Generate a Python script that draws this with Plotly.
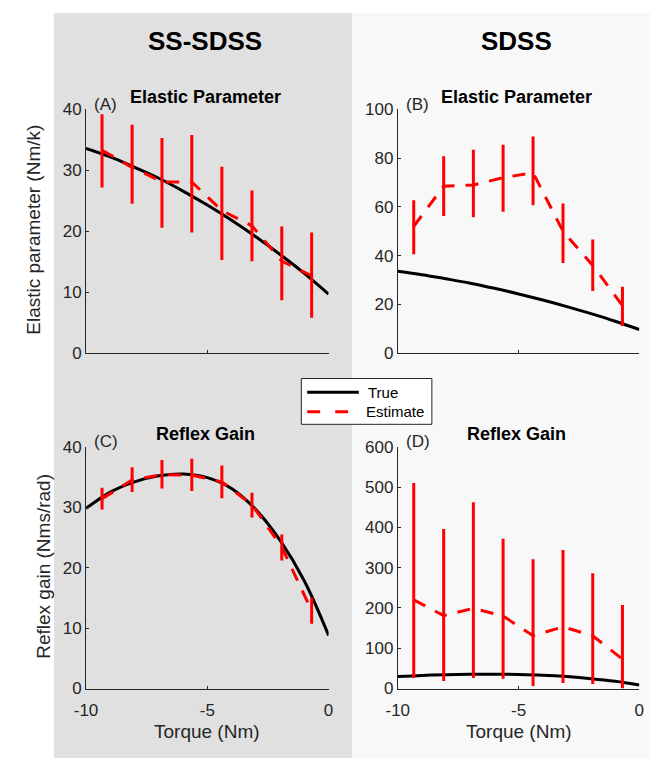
import plotly.graph_objects as go

# Torque levels at which the estimates were made (Nm)
torque_levels = [-9.34, -8.10, -6.87, -5.64, -4.40, -3.16, -1.93, -0.70]

# Sampled "true" curves over the full torque range
torque_grid = [-10, -9, -8, -7, -6, -5, -4, -3, -2, -1, 0]
elastic_true = [33.6, 32.2, 30.5, 28.7, 26.6, 24.3, 21.8, 19.1, 16.2, 13.1, 9.7]
reflex_true = [29.8, 32.5, 34.2, 35.2, 35.5, 34.9, 33.1, 29.6, 24.5, 17.8, 8.8]

# (A) SS-SDSS elastic parameter estimates with lower/upper bounds
a_est = [33.3, 30.5, 28.1, 28.1, 23.4, 20.9, 15.1, 12.7]
a_lo = [27.2, 24.5, 20.6, 19.8, 15.3, 15.1, 8.7, 5.8]
a_hi = [39.2, 37.5, 35.3, 35.8, 30.6, 26.7, 20.8, 19.8]

# (B) SDSS elastic parameter estimates
b_est = [52.0, 68.5, 69.0, 72.0, 74.0, 50.0, 36.0, 19.5]
b_lo = [40.6, 56.3, 55.8, 58.0, 60.7, 37.0, 25.5, 11.1]
b_hi = [62.7, 80.8, 83.5, 85.5, 88.9, 61.4, 46.6, 27.2]

# (C) SS-SDSS reflex gain estimates
c_est = [31.4, 34.5, 35.4, 35.3, 34.2, 30.4, 23.4, 12.9]
c_lo = [29.6, 32.5, 33.1, 32.7, 31.5, 28.3, 21.2, 10.7]
c_hi = [33.2, 36.6, 37.8, 38.0, 36.9, 32.4, 25.5, 15.0]

# (D) SDSS reflex gain estimates
d_est = [220.0, 181.0, 199.0, 180.0, 131.0, 153.0, 131.0, 73.0]
d_lo = [26.0, 19.0, 26.0, 24.0, 6.0, 14.0, 11.0, 0.0]
d_hi = [510.0, 396.0, 462.0, 372.0, 321.0, 344.0, 286.0, 207.0]

x_ticks = [-10, -5, 0]
x_tick_text = ["-10", "-5", "0"]

W, H = 658, 758
FONT = "Liberation Sans, Arial, Helvetica, sans-serif"
INK = "#262626"
DASH = "13px,11px"


def px_x(p):
    return p / W


def px_y(p):
    return 1 - p / H


panels = [
    # name, xdom(px), ydom(px), true, est, lo, hi, yrange, dtick, letter, title
    ("1", (76, 325), (103, 353), elastic_true, a_est, a_lo, a_hi, [0, 40], 10, "(A)", "Elastic Parameter"),
    ("2", (396, 644), (103, 353), elastic_true, b_est, b_lo, b_hi, [0, 100], 20, "(B)", "Elastic Parameter"),
    ("3", (76, 325), (449, 697), reflex_true, c_est, c_lo, c_hi, [0, 40], 10, "(C)", "Reflex Gain"),
    ("4", (396, 644), (449, 697), reflex_true, d_est, d_lo, d_hi, [0, 600], 100, "(D)", "Reflex Gain"),
]

fig = go.Figure()
layout = {}
annotations = []

for i, (n, xd, yd, true_v, est, lo, hi, yr, dt, letter, title) in enumerate(panels):
    xa = "x" if n == "1" else "x" + n
    ya = "y" if n == "1" else "y" + n
    fig.add_trace(go.Scatter(
        x=torque_grid, y=true_v, mode="lines", line=dict(color="black", width=3, shape="spline"),
        name="True", showlegend=False, xaxis=xa, yaxis=ya,
    ))
    fig.add_trace(go.Scatter(
        x=torque_levels, y=est, mode="lines",
        line=dict(color="#ff0000", width=3, dash=DASH),
        error_y=dict(type="data", symmetric=False,
                     array=[h - e for h, e in zip(hi, est)],
                     arrayminus=[e - l for e, l in zip(est, lo)],
                     color="#ff0000", thickness=3, width=0),
        name="Estimate", showlegend=False, xaxis=xa, yaxis=ya,
    ))
    bottom = n in ("3", "4")
    key = "" if n == "1" else n
    layout["xaxis" + key] = dict(
        domain=[px_x(xd[0]), px_x(xd[1])], anchor=ya, range=[-10, 0],
        tickvals=x_ticks, ticktext=x_tick_text, showticklabels=bottom,
        ticks="inside", ticklen=3, ticklabelstandoff=6,
        tickcolor=INK, showline=True, linecolor=INK, linewidth=1, showgrid=False,
        zeroline=False, tickfont=dict(size=17, color=INK, family=FONT),
    )
    layout["yaxis" + key] = dict(
        domain=[px_y(yd[1]), px_y(yd[0])], anchor=xa, range=yr, dtick=dt,
        ticks="inside", ticklen=3, tickcolor=INK, showline=True, linecolor=INK,
        linewidth=1, showgrid=False, zeroline=False,
        tickfont=dict(size=17, color=INK, family=FONT),
    )
    cx = (xd[0] + xd[1]) / 2 - 2
    annotations.append(dict(
        text="<b>" + title + "</b>", x=px_x(cx), y=px_y(yd[0] - 13), xref="paper", yref="paper",
        showarrow=False, xanchor="center", yanchor="middle",
        font=dict(size=18, color="black", family=FONT),
    ))
    annotations.append(dict(
        text=letter, x=px_x(xd[0] + 6), y=px_y(yd[0] - 5), xref="paper", yref="paper",
        showarrow=False, xanchor="left", yanchor="middle",
        font=dict(size=17, color=INK, family=FONT),
    ))
    if bottom:
        annotations.append(dict(
            text="Torque (Nm)", x=px_x(cx + 2), y=px_y(741), xref="paper", yref="paper",
            showarrow=False, xanchor="center", yanchor="middle",
            font=dict(size=19, color=INK, family=FONT),
        ))

# Column headings
annotations.append(dict(text="<b>SS-SDSS</b>", x=px_x(198), y=px_y(33), xref="paper", yref="paper",
                        showarrow=False, xanchor="center", yanchor="middle",
                        font=dict(size=26, color="black", family=FONT)))
annotations.append(dict(text="<b>SDSS</b>", x=px_x(518), y=px_y(33), xref="paper", yref="paper",
                        showarrow=False, xanchor="center", yanchor="middle",
                        font=dict(size=26, color="black", family=FONT)))
# Y-axis titles
annotations.append(dict(text="Elastic parameter (Nm/k)", x=px_x(22), y=px_y(226), xref="paper",
                        yref="paper", showarrow=False, textangle=-90, xanchor="center",
                        yanchor="middle", font=dict(size=19, color=INK, family=FONT)))
annotations.append(dict(text="Reflex gain (Nms/rad)", x=px_x(33), y=px_y(572), xref="paper",
                        yref="paper", showarrow=False, textangle=-90, xanchor="center",
                        yanchor="middle", font=dict(size=19, color=INK, family=FONT)))

# Legend labels
annotations.append(dict(text="True", x=px_x(363), y=px_y(393), xref="paper", yref="paper",
                        showarrow=False, xanchor="left", yanchor="middle",
                        font=dict(size=15, color="black", family=FONT)))
annotations.append(dict(text="Estimate", x=px_x(361), y=px_y(413), xref="paper", yref="paper",
                        showarrow=False, xanchor="left", yanchor="middle",
                        font=dict(size=15, color="black", family=FONT)))

shapes = [
    # Column backgrounds
    dict(type="rect", xref="paper", yref="paper", x0=px_x(43), x1=px_x(349), y0=-0.05, y1=px_y(4),
         fillcolor="#e0e0e0", line=dict(width=0), layer="below"),
    dict(type="rect", xref="paper", yref="paper", x0=px_x(349), x1=px_x(655), y0=-0.05, y1=px_y(4),
         fillcolor="#f8f8f8", line=dict(width=0), layer="below"),
    # Legend box and line samples
    dict(type="rect", xref="paper", yref="paper", x0=px_x(297), x1=px_x(431), y0=px_y(426),
         y1=px_y(379), fillcolor="white", line=dict(color=INK, width=1), layer="above"),
    dict(type="line", xref="paper", yref="paper", x0=px_x(303), x1=px_x(356), y0=px_y(393),
         y1=px_y(393), line=dict(color="black", width=3)),
    dict(type="line", xref="paper", yref="paper", x0=px_x(303), x1=px_x(356), y0=px_y(413),
         y1=px_y(413), line=dict(color="#ff0000", width=3, dash="13px,15px")),
]

fig.update_layout(
    width=W, height=H, margin=dict(l=0, r=0, t=0, b=0),
    paper_bgcolor="white", plot_bgcolor="rgba(0,0,0,0)",
    annotations=annotations, shapes=shapes, showlegend=False,
    **layout,
)

fig.write_html("out.html")
